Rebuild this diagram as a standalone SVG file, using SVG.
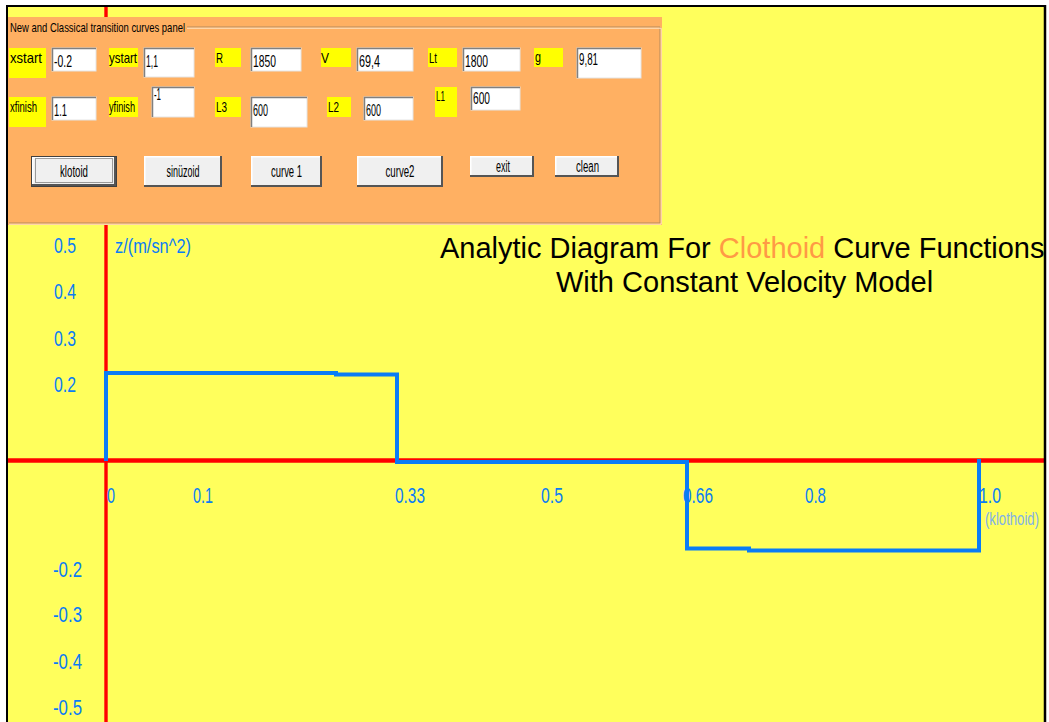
<svg xmlns="http://www.w3.org/2000/svg" width="1049" height="722" viewBox="0 0 1049 722">
<style>
.t{font-family:"Liberation Sans",Arial,sans-serif}
.pl{font-size:15px;fill:#000}
.pv{font-size:16px;fill:#000}
.pb{font-size:16px;fill:#000;text-anchor:middle}
.ax{font-size:22px;fill:#0A7CF5}
.yb{fill:#FFFF00}
.in{fill:#FFFFFF;stroke:#E4E4E4;stroke-width:1}
.inS{fill:none;stroke:#808080;stroke-width:1.5}
.btn{fill:#F0F0F0}
.bH{fill:none;stroke:#FFFFFF;stroke-width:1.5}
.bS{fill:none;stroke:#555555;stroke-width:2}
</style>
<rect x="0" y="0" width="1049" height="722" fill="#FFFFFF"/>
<rect id="plot-area" x="8" y="7" width="1036" height="715" fill="#FFFF5C"/>
<g id="axes">
<line x1="106" y1="7" x2="106" y2="722" stroke="#FF0000" stroke-width="3.4"/>
<line x1="7" y1="460.5" x2="1044" y2="460.5" stroke="#FF0000" stroke-width="4.5"/>
</g>
<g id="panel">
<rect x="8" y="17" width="654" height="208" fill="#FFB062"/>
<polyline points="187,27 660,27 660,223 9,223" fill="none" stroke="#B58A5C" stroke-width="1"/>
<polyline points="187,28.2 661.2,28.2 661.2,224.2 9,224.2" fill="none" stroke="#FFE6C8" stroke-width="1"/>
<text class="t" x="10" y="32" font-size="13" textLength="175" lengthAdjust="spacingAndGlyphs">New and Classical transition curves panel</text>
<g id="lbl-xstart"><rect class="yb" x="9" y="48" width="37" height="30"/><text class="t pl" x="10" y="63" textLength="32" lengthAdjust="spacingAndGlyphs">xstart</text></g>
<g id="lbl-ystart"><rect class="yb" x="109" y="48" width="29" height="19"/><text class="t pl" x="109" y="63" textLength="28" lengthAdjust="spacingAndGlyphs">ystart</text></g>
<g id="lbl-R"><rect class="yb" x="215" y="48" width="26" height="19"/><text class="t pl" x="216" y="63" textLength="7" lengthAdjust="spacingAndGlyphs">R</text></g>
<g id="lbl-V"><rect class="yb" x="321" y="48" width="30" height="19"/><text class="t pl" x="321" y="63" textLength="8" lengthAdjust="spacingAndGlyphs">V</text></g>
<g id="lbl-Lt"><rect class="yb" x="428" y="48" width="29" height="19"/><text class="t pl" x="429" y="63" textLength="8" lengthAdjust="spacingAndGlyphs">Lt</text></g>
<g id="lbl-g"><rect class="yb" x="534" y="48" width="29" height="19"/><text class="t pl" x="535" y="62" textLength="6" lengthAdjust="spacingAndGlyphs">g</text></g>
<g id="lbl-xfinish"><rect class="yb" x="9" y="97" width="37" height="30"/><text class="t pl" x="10" y="112" textLength="27" lengthAdjust="spacingAndGlyphs">xfinish</text></g>
<g id="lbl-yfinish"><rect class="yb" x="109" y="97" width="29" height="20"/><text class="t pl" x="109" y="112" textLength="26" lengthAdjust="spacingAndGlyphs">yfinish</text></g>
<g id="lbl-L3"><rect class="yb" x="215" y="97" width="26" height="20"/><text class="t pl" x="216" y="112" textLength="11" lengthAdjust="spacingAndGlyphs">L3</text></g>
<g id="lbl-L2"><rect class="yb" x="327" y="97" width="24" height="20"/><text class="t pl" x="328" y="112" textLength="11" lengthAdjust="spacingAndGlyphs">L2</text></g>
<g id="lbl-L1"><rect class="yb" x="435" y="87" width="22" height="30"/><text class="t pl" x="436" y="101" textLength="9" lengthAdjust="spacingAndGlyphs">L1</text></g>
<g id="in-xstart"><rect class="in" x="52" y="48" width="44" height="23"/><polyline class="inS" points="52.5,71 52.5,48.5 96,48.5"/><text class="t pv" x="54" y="67" textLength="18" lengthAdjust="spacingAndGlyphs">-0.2</text></g>
<g id="in-ystart"><rect class="in" x="144" y="48" width="50" height="29"/><polyline class="inS" points="144.5,77 144.5,48.5 194,48.5"/><text class="t pv" x="146" y="67" textLength="12" lengthAdjust="spacingAndGlyphs">1,1</text></g>
<g id="in-R"><rect class="in" x="251" y="48" width="50" height="23"/><polyline class="inS" points="251.5,71 251.5,48.5 301,48.5"/><text class="t pv" x="253" y="67" textLength="23" lengthAdjust="spacingAndGlyphs">1850</text></g>
<g id="in-V"><rect class="in" x="357" y="48" width="56" height="23"/><polyline class="inS" points="357.5,71 357.5,48.5 413,48.5"/><text class="t pv" x="359" y="67" textLength="21" lengthAdjust="spacingAndGlyphs">69,4</text></g>
<g id="in-Lt"><rect class="in" x="463" y="48" width="57" height="23"/><polyline class="inS" points="463.5,71 463.5,48.5 520,48.5"/><text class="t pv" x="465" y="67" textLength="23" lengthAdjust="spacingAndGlyphs">1800</text></g>
<g id="in-g"><rect class="in" x="577" y="48" width="64" height="30"/><polyline class="inS" points="577.5,78 577.5,48.5 641,48.5"/><text class="t pv" x="579" y="65" textLength="19" lengthAdjust="spacingAndGlyphs">9,81</text></g>
<g id="in-xfinish"><rect class="in" x="52" y="97" width="44" height="23"/><polyline class="inS" points="52.5,120 52.5,97.5 96,97.5"/><text class="t pv" x="54" y="116" textLength="13" lengthAdjust="spacingAndGlyphs">1.1</text></g>
<g id="in-yfinish"><rect class="in" x="152" y="87" width="42" height="30"/><polyline class="inS" points="152.5,117 152.5,87.5 194,87.5"/><text class="t pv" x="154" y="100" textLength="7" lengthAdjust="spacingAndGlyphs">-1</text></g>
<g id="in-L3"><rect class="in" x="251" y="97" width="56" height="30"/><polyline class="inS" points="251.5,127 251.5,97.5 307,97.5"/><text class="t pv" x="253" y="116" textLength="15" lengthAdjust="spacingAndGlyphs">600</text></g>
<g id="in-L2"><rect class="in" x="364" y="97" width="49" height="23"/><polyline class="inS" points="364.5,120 364.5,97.5 413,97.5"/><text class="t pv" x="366" y="116" textLength="15" lengthAdjust="spacingAndGlyphs">600</text></g>
<g id="in-L1"><rect class="in" x="471" y="87" width="49" height="23"/><polyline class="inS" points="471.5,110 471.5,87.5 520,87.5"/><text class="t pv" x="473" y="104" textLength="17" lengthAdjust="spacingAndGlyphs">600</text></g>
<g id="btn-klotoid"><rect x="31" y="156" width="86" height="31" fill="#404040"/><rect class="btn" x="32" y="157" width="83" height="28"/><polyline class="bH" points="32.8,184 32.8,157.8 115,157.8"/><polyline class="bS" points="32,185 115,185 115,157"/><rect x="35.5" y="158.5" width="77" height="24" fill="none" stroke="#444" stroke-width="1" stroke-dasharray="1,1"/><text class="t pb" x="74" y="177" textLength="28" lengthAdjust="spacingAndGlyphs">klotoid</text></g>
<g id="btn-sinuzoid"><rect class="btn" x="144" y="156" width="78" height="31"/><polyline class="bH" points="144.8,186 144.8,156.8 222,156.8"/><polyline class="bS" points="144,186 221,186 221,156"/><text class="t pb" x="183" y="177" textLength="33" lengthAdjust="spacingAndGlyphs">sinüzoid</text></g>
<g id="btn-curve1"><rect class="btn" x="251" y="156" width="71" height="31"/><polyline class="bH" points="251.8,186 251.8,156.8 322,156.8"/><polyline class="bS" points="251,186 321,186 321,156"/><text class="t pb" x="286.5" y="177" textLength="31" lengthAdjust="spacingAndGlyphs">curve 1</text></g>
<g id="btn-curve2"><rect class="btn" x="357" y="156" width="86" height="31"/><polyline class="bH" points="357.8,186 357.8,156.8 443,156.8"/><polyline class="bS" points="357,186 442,186 442,156"/><text class="t pb" x="400" y="177" textLength="29" lengthAdjust="spacingAndGlyphs">curve2</text></g>
<g id="btn-exit"><rect class="btn" x="470" y="156" width="64" height="21"/><polyline class="bH" points="470.8,176 470.8,156.8 534,156.8"/><polyline class="bS" points="470,176 533,176 533,156"/><text class="t pb" x="503" y="172" textLength="14" lengthAdjust="spacingAndGlyphs">exit</text></g>
<g id="btn-clean"><rect class="btn" x="555" y="156" width="64" height="21"/><polyline class="bH" points="555.8,176 555.8,156.8 619,156.8"/><polyline class="bS" points="555,176 618,176 618,156"/><text class="t pb" x="587.5" y="172" textLength="23" lengthAdjust="spacingAndGlyphs">clean</text></g>
</g>
<g id="connectors">
<path id="clothoid-curve" d="M106,461 V373 H336 V374.5 H397 V462 H687 V548.5 H749 V550.5 H979 V459" fill="none" stroke="#0A7CF5" stroke-width="4"/>
</g>
<g id="y-labels">
<text class="t ax" x="54" y="253" textLength="22" lengthAdjust="spacingAndGlyphs">0.5</text>
<text class="t ax" x="54" y="299" textLength="22" lengthAdjust="spacingAndGlyphs">0.4</text>
<text class="t ax" x="54" y="346" textLength="22" lengthAdjust="spacingAndGlyphs">0.3</text>
<text class="t ax" x="54" y="392" textLength="22" lengthAdjust="spacingAndGlyphs">0.2</text>
<text class="t ax" x="53" y="577" textLength="29" lengthAdjust="spacingAndGlyphs">-0.2</text>
<text class="t ax" x="53" y="622" textLength="29" lengthAdjust="spacingAndGlyphs">-0.3</text>
<text class="t ax" x="53" y="669" textLength="29" lengthAdjust="spacingAndGlyphs">-0.4</text>
<text class="t ax" x="53" y="715" textLength="29" lengthAdjust="spacingAndGlyphs">-0.5</text>
<text class="t" x="115" y="253" font-size="21" fill="#0A7CF5" textLength="76" lengthAdjust="spacingAndGlyphs">z/(m/sn^2)</text>
</g>
<g id="x-labels">
<text class="t ax" x="107" y="503" textLength="8" lengthAdjust="spacingAndGlyphs">0</text>
<text class="t ax" x="193" y="503" textLength="20" lengthAdjust="spacingAndGlyphs">0.1</text>
<text class="t ax" x="395" y="503" textLength="30" lengthAdjust="spacingAndGlyphs">0.33</text>
<text class="t ax" x="541" y="503" textLength="22" lengthAdjust="spacingAndGlyphs">0.5</text>
<text class="t ax" x="683" y="503" textLength="30" lengthAdjust="spacingAndGlyphs">0.66</text>
<text class="t ax" x="805" y="503" textLength="21" lengthAdjust="spacingAndGlyphs">0.8</text>
<text class="t ax" x="979" y="503" textLength="22" lengthAdjust="spacingAndGlyphs">1.0</text>
<text class="t" x="985" y="525" font-size="18" fill="#7FB2E6" textLength="54" lengthAdjust="spacingAndGlyphs">(klothoid)</text>
</g>
<g id="title">
<text class="t" x="440" y="258" font-size="29" fill="#000">Analytic Diagram For <tspan fill="#FF9A45">Clothoid</tspan> Curve Functions</text>
<text class="t" x="556" y="292" font-size="29" fill="#000">With Constant Velocity Model</text>
</g>
<g id="frame">
<rect x="1046" y="0" width="3" height="722" fill="#FFFFFF"/>
<line x1="6" y1="6" x2="1045" y2="6" stroke="#000" stroke-width="2"/>
<line x1="7" y1="5" x2="7" y2="722" stroke="#000" stroke-width="2"/>
<line x1="1045" y1="5" x2="1045" y2="722" stroke="#000" stroke-width="2.5"/>
</g>
</svg>
